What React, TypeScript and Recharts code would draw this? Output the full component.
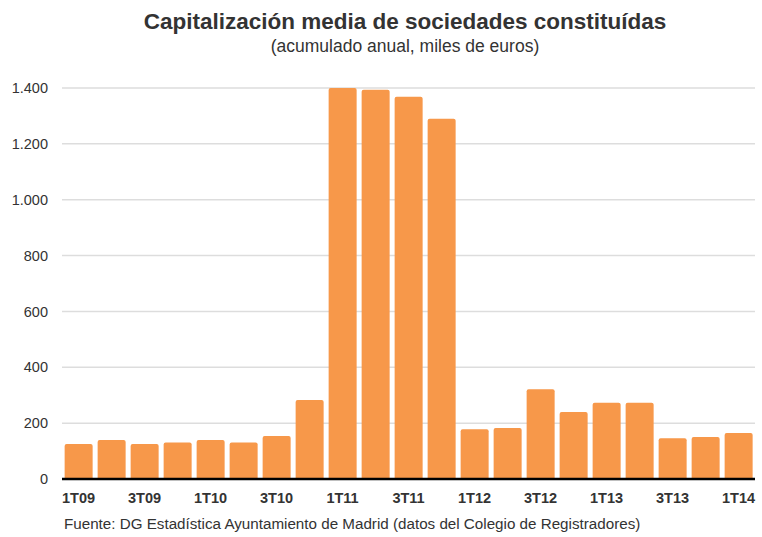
import { BarChart, Bar, XAxis, YAxis, CartesianGrid } from "recharts";

const quarters = [
  "1T09", "2T09", "3T09", "4T09",
  "1T10", "2T10", "3T10", "4T10",
  "1T11", "2T11", "3T11", "4T11",
  "1T12", "2T12", "3T12", "4T12",
  "1T13", "2T13", "3T13", "4T13",
  "1T14",
];

const capital = [
  125, 140, 125, 131,
  140, 131, 154, 283,
  1400, 1394, 1369, 1290,
  178, 183, 321, 240,
  273, 273, 146, 150,
  165,
];

const yTicks = [0, 200, 400, 600, 800, 1000, 1200, 1400];

const data = quarters.map((q, i) => ({ q, value: capital[i] }));

const fmt = (v: number) => String(v).replace(/\B(?=(\d{3})+(?!\d))/g, ".");

const font = '"Liberation Sans", Arial, Helvetica, sans-serif';

const App = () => {
  return (
    <div
      style={{
        position: "absolute",
        left: 0,
        top: 0,
        width: 762,
        height: 537,
        background: "#fff",
        fontFamily: font,
      }}
    >
      <div
        style={{
          position: "absolute",
          top: 9,
          left: 0,
          width: 810,
          textAlign: "center",
          fontSize: 22.5,
          fontWeight: "bold",
          color: "#333",
        }}
      >
        Capitalización media de sociedades constituídas
      </div>
      <div
        style={{
          position: "absolute",
          top: 36,
          left: 0,
          width: 810,
          textAlign: "center",
          fontSize: 17.5,
          color: "#333",
        }}
      >
        (acumulado anual, miles de euros)
      </div>
      <BarChart
        width={762}
        height={537}
        data={data}
        margin={{ top: 88, right: 7, bottom: 28, left: 0 }}
        barCategoryGap="8%"
      >
        <CartesianGrid vertical={false} stroke="#dddddd" strokeWidth={1.5} />
        <XAxis
          dataKey="q"
          interval={1}
          tickLine={false}
          axisLine={{ stroke: "#000", strokeWidth: 2.5 }}
          tick={{ fill: "#333", fontSize: 14.5, fontWeight: "bold", fontFamily: font }}
          tickMargin={8}
          height={30}
        />
        <YAxis
          width={62}
          domain={[0, 1400]}
          ticks={yTicks}
          tickFormatter={fmt}
          axisLine={false}
          tickLine={false}
          tickSize={0}
          tickMargin={14}
          tick={{ fill: "#333", fontSize: 14.5, fontFamily: font }}
        />
        <Bar
          dataKey="value"
          fill="#F7984A"
          radius={[2, 2, 0, 0]}
          isAnimationActive={false}
        />
      </BarChart>
      <div
        style={{
          position: "absolute",
          top: 515,
          left: 64,
          fontSize: 15.2,
          color: "#333",
        }}
      >
        Fuente: DG Estadística Ayuntamiento de Madrid (datos del Colegio de Registradores)
      </div>
    </div>
  );
};

export default App;
